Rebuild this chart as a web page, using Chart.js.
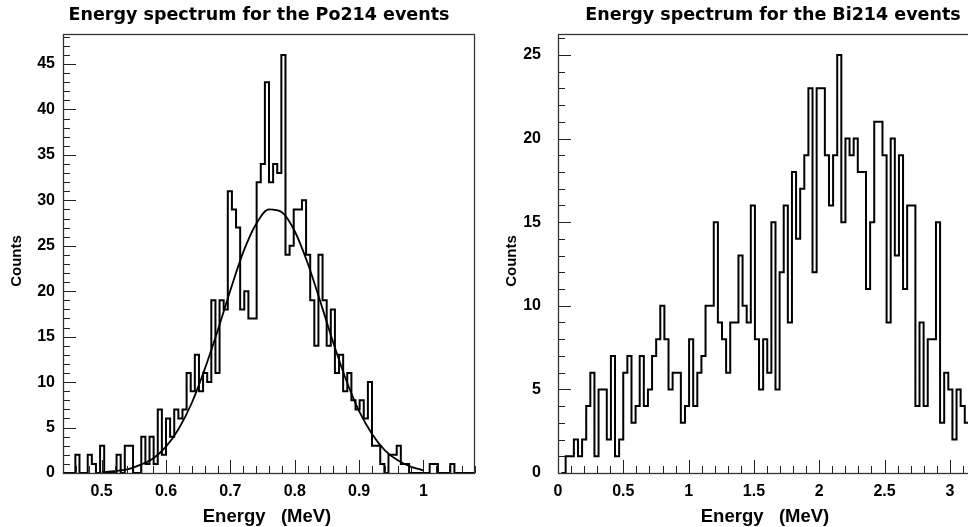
<!DOCTYPE html>
<html>
<head>
<meta charset="utf-8">
<script src="https://cdn.jsdelivr.net/npm/chart.js@4.4.1/dist/chart.umd.min.js"></script>
<style>
  html, body { margin: 0; padding: 0; background: #fff; overflow: hidden; width: 968px; height: 527px; }
  .panel { position: absolute; top: 0; }
  #left { left: 0; }
  #right { left: 490px; }
</style>
</head>
<body>
<div class="panel" id="left"><canvas id="po" width="484" height="527"></canvas></div>
<div class="panel" id="right"><canvas id="bi" width="495" height="527"></canvas></div>
<script>
// Po214: 100 bins between 0.44 and 1.08 MeV
const poEdges = [0.44, 1.08];
const poCounts = [
  0, 0, 0, 2, 0, 0, 2, 1, 0, 3,
  0, 0, 0, 2, 0, 3, 3, 0, 0, 4,
  1, 4, 1, 7, 2, 6, 4, 7, 6, 7,
  11, 9, 13, 9, 11, 10, 19, 11, 19, 18,
  31, 29, 27, 18, 20, 17, 17, 32, 34, 43,
  32, 34, 33, 46, 24, 25, 29, 29, 30, 24,
  19, 14, 24, 19, 14, 18, 11, 13, 9, 11,
  8, 7, 8, 6, 10, 3, 3, 1, 0, 2,
  2, 3, 1, 1, 0, 0, 0, 0, 0, 1,
  1, 0, 0, 0, 1, 0, 0, 0, 0, 0
];
// gaussian fit curve
const poFitE = [0.50, 0.52, 0.54, 0.56, 0.58, 0.60, 0.62, 0.64, 0.66, 0.68, 0.70, 0.72, 0.74,
                0.76, 0.78, 0.80, 0.82, 0.84, 0.86, 0.88, 0.90, 0.92, 0.94, 0.96, 0.98, 1.00];
const poFitCounts = [0.1, 0.2, 0.4, 0.9, 1.6, 2.9, 4.9, 7.7, 11.4, 15.6, 20.1, 24.3, 27.4,
                     29.0, 28.7, 26.6, 23.1, 18.8, 14.3, 10.2, 6.8, 4.3, 2.5, 1.4, 0.7, 0.3];
const poXLabels = [0.5, 0.6, 0.7, 0.8, 0.9, 1];
const poYMax = 48.3;

// Bi214: 100 bins starting at 0.027 MeV, 0.0315 MeV wide
const biStart = 0.027;
const biBinWidth = 0.0315;
const biCounts = [
  0, 1, 1, 2, 1, 2, 4, 6, 1, 5,
  5, 2, 7, 1, 2, 6, 7, 3, 4, 7,
  4, 5, 7, 8, 10, 8, 5, 6, 6, 3,
  4, 8, 4, 6, 7, 10, 10, 15, 9, 8,
  6, 9, 9, 13, 10, 9, 16, 8, 5, 8,
  6, 15, 5, 12, 16, 9, 18, 14, 17, 19,
  23, 12, 23, 23, 19, 16, 19, 25, 15, 20,
  19, 20, 18, 18, 11, 15, 21, 21, 19, 9,
  20, 13, 19, 11, 16, 16, 4, 9, 4, 8,
  8, 15, 3, 6, 5, 2, 5, 4, 3, 3
];
const biXRange = [0, 3.2];
const biXLabels = [0, 0.5, 1, 1.5, 2, 2.5, 3];
const biYMax = 26.25;

const tickFont = { family: 'Liberation Sans', weight: 'bold', size: 16 };

// outline points: bin i spans [start + i*w, start + (i+1)*w]
function histPoints(start, width, counts) {
  const pts = [{ x: start, y: 0 }];
  counts.forEach((c, i) => pts.push({ x: start + i * width, y: c }));
  const end = start + counts.length * width;
  pts.push({ x: end, y: counts[counts.length - 1] });
  pts.push({ x: end, y: 0 });
  return pts;
}

function stepTicks(min, max, step) {
  const out = [];
  const n = Math.round((max - min) / step);
  for (let i = 0; i <= n; i++) out.push(+(min + i * step).toFixed(6));
  return out;
}

// ROOT-like frame: box plus inward tick marks, pad title and axis titles
const rootFrame = {
  id: 'rootFrame',
  afterDraw(chart, args, opts) {
    const { ctx, chartArea: a, scales: { x, y } } = chart;
    ctx.save();
    ctx.strokeStyle = '#222';
    ctx.lineWidth = 1;
    ctx.beginPath();
    x.ticks.forEach(t => {
      const px = Math.round(x.getPixelForValue(t.value)) + 0.5;
      const len = t.label !== '' ? 13 : 7;
      ctx.moveTo(px, a.bottom);
      ctx.lineTo(px, a.bottom - len);
    });
    y.ticks.forEach(t => {
      const py = Math.round(y.getPixelForValue(t.value)) + 0.5;
      const len = t.label !== '' ? 13 : 7;
      ctx.moveTo(a.left, py);
      ctx.lineTo(a.left + len, py);
    });
    ctx.stroke();
    ctx.lineWidth = 1.3;
    ctx.strokeStyle = '#333';
    ctx.strokeRect(a.left + 0.5, a.top + 0.5, a.right - a.left - 1, a.bottom - a.top);

    ctx.fillStyle = '#000';
    ctx.textAlign = 'center';
    ctx.textBaseline = 'alphabetic';
    ctx.font = 'bold 17.5px "DejaVu Sans"';
    ctx.fillText(opts.text, opts.cx, 20);

    ctx.font = 'bold 18.5px "Liberation Sans"';
    ctx.fillText('Energy   (MeV)', (a.left + a.right) / 2 - 2, 522);

    ctx.translate(opts.countsX, 261);
    ctx.rotate(-Math.PI / 2);
    ctx.font = 'bold 15px "Liberation Sans"';
    ctx.textBaseline = 'middle';
    ctx.fillText('Counts', 0, 0);
    ctx.restore();
  }
};

function makeChart(id, cfg) {
  return new Chart(document.getElementById(id), {
    type: 'line',
    data: { datasets: cfg.datasets },
    options: {
      responsive: false,
      animation: false,
      events: [],
      layout: { padding: { left: 0, right: cfg.padRight, top: 34, bottom: 0 } },
      plugins: { legend: { display: false }, tooltip: { enabled: false }, rootFrame: cfg.title },
      scales: {
        x: {
          type: 'linear',
          min: cfg.xMin,
          max: cfg.xMax,
          afterBuildTicks: s => { s.ticks = stepTicks(cfg.xMin, cfg.xMax, cfg.xMinor).map(v => ({ value: v })); },
          afterFit: s => { s.height = 54; },
          grid: { display: false, drawTicks: false },
          border: { display: false },
          ticks: {
            autoSkip: false, maxRotation: 0, padding: 9, color: '#000', font: tickFont,
            callback: v => cfg.xLabels.some(l => Math.abs(l - v) < 1e-6) ? String(+v.toFixed(1)) : ''
          }
        },
        y: {
          type: 'linear',
          min: 0,
          max: cfg.yMax,
          afterBuildTicks: s => { s.ticks = stepTicks(0, Math.floor(cfg.yMax), 1).map(v => ({ value: v })); },
          afterFit: s => { s.width = cfg.yWidth; },
          grid: { display: false, drawTicks: false },
          border: { display: false },
          ticks: {
            autoSkip: false, padding: cfg.yPad, color: '#000', font: tickFont,
            callback: v => v % 5 === 0 ? String(v) : ''
          }
        }
      }
    },
    plugins: [rootFrame]
  });
}

const poStep = (poEdges[1] - poEdges[0]) / poCounts.length;

makeChart('po', {
  xMin: poEdges[0], xMax: poEdges[1], xMinor: 0.02, xLabels: poXLabels,
  yMax: poYMax, yWidth: 63, yPad: 8, padRight: 8,
  title: { text: 'Energy spectrum for the Po214 events', cx: 259, countsX: 17 },
  datasets: [
    { data: histPoints(poEdges[0], poStep, poCounts), stepped: 'before', borderColor: '#000', borderWidth: 2, pointRadius: 0, fill: false },
    { data: poFitE.map((e, i) => ({ x: e, y: poFitCounts[i] })), borderColor: '#000', borderWidth: 1.8, pointRadius: 0, fill: false, cubicInterpolationMode: 'monotone' }
  ]
});

makeChart('bi', {
  xMin: biXRange[0], xMax: biXRange[1], xMinor: 0.1, xLabels: biXLabels,
  yMax: biYMax, yWidth: 68, yPad: 17, padRight: 8,
  title: { text: 'Energy spectrum for the Bi214 events', cx: 283, countsX: 22 },
  datasets: [
    { data: histPoints(biStart, biBinWidth, biCounts), stepped: 'before', borderColor: '#000', borderWidth: 2, pointRadius: 0, fill: false }
  ]
});
</script>
</body>
</html>
